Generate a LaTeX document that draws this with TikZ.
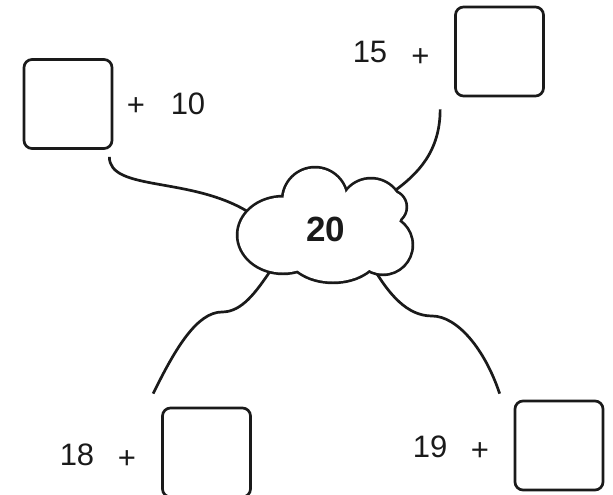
\documentclass[tikz,border=0pt]{standalone}
\usepackage{fontspec}
\setmainfont{Liberation Sans}
\usepackage{xcolor}
\definecolor{ink}{HTML}{1A1A1A}
\tikzset{
  ansbox/.style={
    rectangle, draw=ink, line width=2.7pt, rounded corners=8pt,
    minimum width=88pt, minimum height=89pt, inner sep=0pt
  },
  numlabel/.style={
    text=ink, font=\fontsize{31}{36}\selectfont, inner sep=0pt
  },
  link/.style={
    draw=ink, line width=2.7pt
  },
}
\begin{document}
\begin{tikzpicture}[x=1pt, y=-1pt]
  \useasboundingbox (0,0) rectangle (613,495);

  % Top left
  \node[ansbox] (box1) at (68,104) {};
  \node[numlabel] (plus1) at (136,107) {+};
  \node[numlabel] (num1) at (188,103.5) {10};

  % Top right
  \node[ansbox] (box2) at (499.5,51.5) {};
  \node[numlabel] (num2) at (370,51.5) {15};
  \node[numlabel] (plus2) at (420.5,58) {+};

  % Bottom left
  \node[ansbox] (box3) at (206.5,452.5) {};
  \node[numlabel] (num3) at (77,454.5) {18};
  \node[numlabel] (plus3) at (127,460) {+};

  % Bottom right
  \node[ansbox] (box4) at (559,445.5) {};
  \node[numlabel] (num4) at (430,447) {19};
  \node[numlabel] (plus4) at (480,451.5) {+};

  % Links (they end just inside the cloud)
  \coordinate (c1) at (250,213);
  \coordinate (c2) at (393,192);
  \coordinate (c3) at (271,270);
  \coordinate (c4) at (374,269);
  \coordinate (s1) at ([xshift=-4pt,yshift=-7pt]box1.south east);
  \coordinate (s2) at ([xshift=-14pt,yshift=-12pt]box2.south west);
  \coordinate (s3) at ([xshift=-8pt,yshift=13pt]box3.north west);
  \coordinate (s4) at ([xshift=-14pt,yshift=6pt]box4.north west);
  \coordinate (m3) at (222,312);
  \coordinate (m4) at (432,316);
  \draw[link] (s1) .. controls +(0,35) and +(-58,-37) .. (c1);
  \draw[link] (s2) .. controls +(0,42) and +(25,-18) .. (c2);
  \draw[link] (c3) .. controls +(-15,22) and +(20,0) .. (m3)
    .. controls +(-25,0) and +(22,-45) .. (s3);
  \draw[link] (c4) .. controls +(15,25) and +(-25,0) .. (m4)
    .. controls +(25,0) and +(-15,-45) .. (s4);

  % Cloud: outline of the puffs, then their insides
  \foreach \cx/\cy/\rx/\ry in {283/235/44.5/37.5, 315/200/31.5/31.5,
      371/210/30.5/30.5, 390/207/15.5/15.5, 383/245/28.5/28.5,
      333/250/46.5/31.5, 325/228/68/32}
    \draw[draw=ink, line width=5.4pt] (\cx,\cy) ellipse [x radius=\rx, y radius=\ry];
  \foreach \cx/\cy/\rx/\ry in {283/235/44.5/37.5, 315/200/31.5/31.5,
      371/210/30.5/30.5, 390/207/15.5/15.5, 383/245/28.5/28.5,
      333/250/46.5/31.5, 325/228/68/32}
    \fill[white] (\cx,\cy) ellipse [x radius=\rx, y radius=\ry];
  \node[text=ink, inner sep=0pt, font=\fontsize{35}{40}\selectfont\bfseries]
    (sum) at (326,229.5) {20};
\end{tikzpicture}
\end{document}
